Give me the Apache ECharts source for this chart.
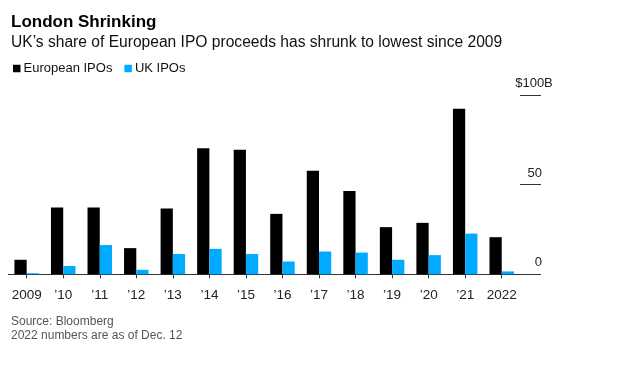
<!DOCTYPE html>
<html><head><meta charset="utf-8">
<script src="https://cdn.jsdelivr.net/npm/echarts@6/dist/echarts.min.js"></script>
<style>html,body{margin:0;padding:0;background:#fff}#c{width:624px;height:390px}</style>
</head><body><div id="c"></div>
<script>
const categories = ['2009','’10','’11','’12','’13','’14','’15','’16','’17','’18','’19','’20','’21','2022'];
const europeanIPOs = [8.1, 37.2, 37.2, 14.6, 36.7, 70.3, 69.4, 33.7, 57.8, 46.4, 26.3, 28.7, 92.4, 20.7];
const ukIPOs = [0.6, 4.6, 16.3, 2.5, 11.3, 14.2, 11.3, 7.1, 12.7, 12.1, 8.1, 10.7, 22.7, 1.6];
const yTicks = [0, 50, 100];

const FONT = '"Liberation Sans", Arial, sans-serif';
const chart = echarts.init(document.getElementById('c'), null, {renderer: 'canvas'});
chart.setOption({
  animation: false,
  textStyle: {fontFamily: FONT},
  title: [
    {text: 'London Shrinking', left: 6, top: 9, textStyle: {fontFamily: FONT, fontSize: 17, fontWeight: 'bold', color: '#000'}},
    {text: 'UK\u2019s share of European IPO proceeds has shrunk to lowest since 2009', left: 6, top: 30, textStyle: {fontFamily: FONT, fontSize: 15.6, fontWeight: 'normal', color: '#111'}},
    {text: 'Source: Bloomberg\n2022 numbers are as of Dec. 12', left: 6, top: 310, textStyle: {fontFamily: FONT, fontSize: 12, fontWeight: 'normal', color: '#555', lineHeight: 13.5}}
  ],
  legend: {
    left: 8, top: 57, icon: 'rect', itemWidth: 7.5, itemHeight: 7.5, itemGap: 12,
    textStyle: {fontFamily: FONT, fontSize: 13, color: '#111', padding: [0,0,0,-2]},
    data: ['European IPOs', 'UK IPOs']
  },
  grid: {left: 8.4, right: 104, top: 95, bottom: 115.7, containLabel: false},
  xAxis: {
    type: 'category', data: categories,
    axisLine: {show: true, lineStyle: {color: '#333', width: 1}},
    axisTick: {show: true, alignWithLabel: true, length: 4, lineStyle: {color: '#333'}},
    axisLabel: {fontFamily: FONT, fontSize: 13.5, color: '#222', margin: 14, interval: 0}
  },
  yAxis: {
    type: 'value', position: 'right', min: 0, max: 100, interval: 50,
    name: '$100B', nameLocation: 'end', nameGap: 5,
    nameTextStyle: {fontFamily: FONT, fontSize: 13, color: '#222', align: 'center', padding: [0,0,0,28]},
    axisLine: {show: false},
    splitLine: {show: false},
    axisTick: {show: true, length: 21, lineStyle: {color: '#333'}},
    axisLabel: {
      showMinLabel: true, showMaxLabel: true, hideOverlap: false,
      fontFamily: FONT, fontSize: 13, color: '#222', align: 'right', verticalAlign: 'bottom',
      margin: 22, padding: [0,0,5,0],
      formatter: v => (yTicks.includes(v) && v !== 100) ? String(v) : ''
    }
  },
  series: [
    {name: 'European IPOs', type: 'bar', data: europeanIPOs, itemStyle: {color: '#000'}, barGap: '0%', barCategoryGap: '33%'},
    {name: 'UK IPOs', type: 'bar', data: ukIPOs, itemStyle: {color: '#00aaff'}, barGap: '0%', barCategoryGap: '33%'}
  ]
});
</script></body></html>
